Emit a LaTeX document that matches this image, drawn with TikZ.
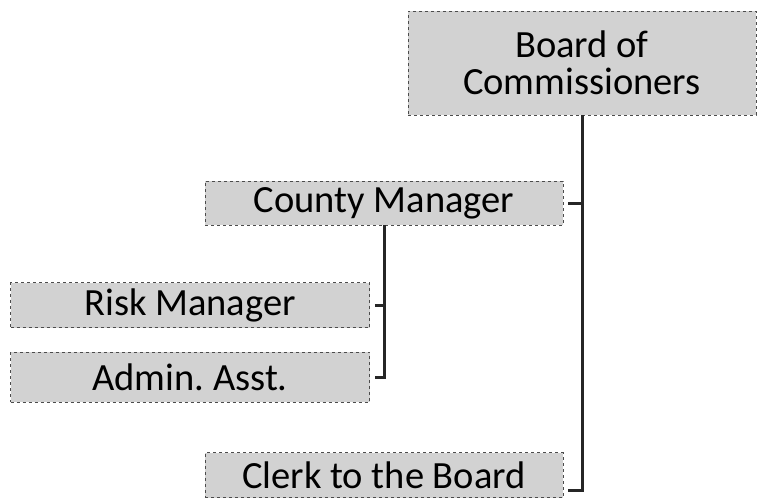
\documentclass[tikz,border=0pt]{standalone}
\usepackage{fontspec}
\setmainfont{Carlito}
\tikzset{
	orgbox/.style={draw=black!70, dashed, line width=0.5pt, fill=gray!35,
		inner sep=0pt, align=center, font=\fontsize{38.5}{37}\selectfont},
	link/.style={line width=3pt, draw=black!85}
}
\begin{document}
\begin{tikzpicture}[x=1pt, y=-1pt]
	\useasboundingbox (0,0) rectangle (761,498);

	\node
		[orgbox, minimum width=348pt, minimum height=104pt] (board) at (582,63) {Board of\\Commissioners};

	\node
		[orgbox, minimum width=358pt, minimum height=44pt] (county) at (384,203) {County Manager};

	\node
		[orgbox, minimum width=359pt, minimum height=45pt] (risk) at (190,305) {Risk Manager};

	\node
		[orgbox, minimum width=359pt, minimum height=50pt] (admin) at (190,377) {Admin.\ Asst.};

	\node
		[orgbox, minimum width=358pt, minimum height=45pt] (clerk) at (384,475) {Clerk to the Board};

	\draw
		[link] (board.south) |- ([xshift=5pt, yshift=-15pt]clerk.east);

	\draw
		[link] ([xshift=5pt]county.east) -- (county.east -| board.south);

	\draw
		[link] (county.south) |- ([xshift=5pt]admin.east);

	\draw
		[link] ([xshift=5pt]risk.east) -- (risk.east -| county.south);
\end{tikzpicture}
\end{document}
